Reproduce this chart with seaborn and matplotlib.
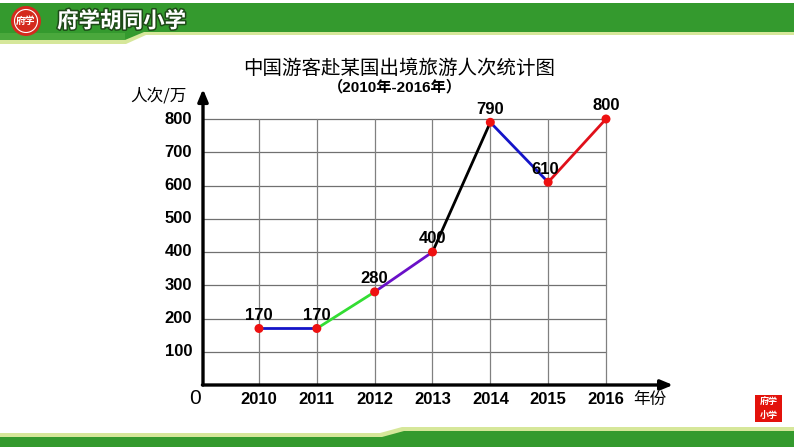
import matplotlib
matplotlib.use("Agg")
import matplotlib.pyplot as plt
import matplotlib.patheffects as pe
from matplotlib.patches import Polygon, Circle, Rectangle
import seaborn as sns
import pandas as pd

sns.set_theme(style="white")
plt.rcParams['font.family'] = ['Liberation Sans', 'Noto Sans CJK SC', 'DejaVu Sans']
plt.rcParams['text.color'] = 'black'

years = [2010, 2011, 2012, 2013, 2014, 2015, 2016]
visitors = [170, 170, 280, 400, 790, 610, 800]
seg_colors = ['#1414c8', '#33dd33', '#6a10c8', '#000000', '#1414c8', '#e0101a']
y_ticks = [100, 200, 300, 400, 500, 600, 700, 800]
title = "中国游客赴某国出境旅游人次统计图"
subtitle = "（2010年-2016年）"
y_unit = "人次/万"
x_unit = "年份"

W, H = 794, 447
fig = plt.figure(figsize=(W / 100, H / 100), dpi=100)

# background decoration axes in pixel coordinates
bg = fig.add_axes([0, 0, 1, 1], zorder=0)
bg.set_xlim(0, W)
bg.set_ylim(H, 0)
bg.axis('off')
green = '#349a2e'
light = '#d6e79a'
# header
bg.add_patch(Polygon([(0, 44), (126, 44), (146, 35), (W, 35), (W, 31), (0, 31)], closed=True, color=light, lw=0))
bg.add_patch(Polygon([(0, 3), (W, 3), (W, 32), (144, 32), (125, 40), (0, 40)], closed=True, color=green, lw=0))
bg.add_patch(Polygon([(0, 33), (125, 33), (125, 40), (0, 40)], closed=True, color='#4aa83c', lw=0))
# header logo
bg.add_patch(Circle((26, 21), 15, color='#d42a1e', lw=0))
bg.add_patch(Circle((26, 21), 11.5, fill=False, ec='white', lw=0.8))
bg.text(26, 21, "府学", color='white', fontsize=7, ha='center', va='center', family=['Noto Sans CJK SC'], fontweight='bold')
bg.text(57, 21, "府学胡同小学", color='white', fontsize=15.5, ha='left', va='center',
        family=['Noto Sans CJK SC'], fontweight='bold', fontstyle='italic',
        path_effects=[pe.withStroke(linewidth=2.2, foreground='#1e4a18')])
# footer
bg.add_patch(Polygon([(0, 433), (380, 433), (402, 427), (W, 427), (W, 447), (0, 447)], closed=True, color=light, lw=0))
bg.add_patch(Polygon([(0, 437), (382, 437), (404, 431), (W, 431), (W, 447), (0, 447)], closed=True, color=green, lw=0))
# footer badge
bg.add_patch(Rectangle((755, 395), 27, 27, color='#e3120b', lw=0))
bg.text(768.5, 402, "府学", color='white', fontsize=6.5, ha='center', va='center', family=['Noto Sans CJK SC'], fontweight='bold')
bg.text(768.5, 415, "小学", color='white', fontsize=6.5, ha='center', va='center', family=['Noto Sans CJK SC'], fontweight='bold')

# main chart axes
px_per_year = 57.83
px_per_unit = 0.3325
x0 = 2010 - 56 / px_per_year
left_px, right_px, bottom_px, top_px = 203, 690, 385, 80
ax = fig.add_axes([left_px / W, (H - bottom_px) / H, (right_px - left_px) / W, (bottom_px - top_px) / H], zorder=1)
ax.patch.set_alpha(0)
ax.set_xlim(x0, x0 + (right_px - left_px) / px_per_year)
ax.set_ylim(0, (bottom_px - top_px) / px_per_unit)
for s in ax.spines.values():
    s.set_visible(False)
ax.set_xticks([])
ax.set_yticks([])

# grid
for yv in y_ticks:
    ax.plot([x0, years[-1]], [yv, yv], color='#707070', lw=0.9, zorder=1)
for xv in years:
    ax.plot([xv, xv], [0, 800], color='#808080', lw=0.9, zorder=1)

# axes arrows
ax.annotate('', xy=(x0, 890), xytext=(x0, 0),
            arrowprops=dict(arrowstyle='-|>,head_length=0.6,head_width=0.25', lw=2.4, color='black', shrinkA=0, shrinkB=0),
            annotation_clip=False, zorder=3)
ax.annotate('', xy=(2016 + 67 / px_per_year, 0), xytext=(x0 - 0.01, 0),
            arrowprops=dict(arrowstyle='-|>,head_length=0.6,head_width=0.25', lw=2.4, color='black', shrinkA=0, shrinkB=0),
            annotation_clip=False, zorder=3)

# line segments
for i, c in enumerate(seg_colors):
    seg = pd.DataFrame({'year': years[i:i + 2], 'v': visitors[i:i + 2]})
    sns.lineplot(data=seg, x='year', y='v', color=c, lw=2.0, ax=ax, zorder=4)
df = pd.DataFrame({'year': years, 'v': visitors})
sns.scatterplot(data=df, x='year', y='v', color='#ee1111', s=42, edgecolor='none', ax=ax, zorder=5)
ax.set_xlabel('')
ax.set_ylabel('')

# data labels
offsets = {2015: (-2, 4)}
for xv, yv in zip(years, visitors):
    dx, dy = offsets.get(xv, (0, 4))
    ax.annotate(str(yv), (xv, yv), xytext=(dx, dy), textcoords='offset points',
                ha='center', va='bottom', fontsize=12, fontweight='bold', zorder=6)

# tick labels
for yv in y_ticks:
    ax.text(x0 - 11 / px_per_year, yv, str(yv), ha='right', va='center', fontsize=12, fontweight='bold')
for xv in years:
    ax.text(xv, -45, str(xv), ha='center', va='center', fontsize=12, fontweight='bold')
ax.text(x0 - 8 / px_per_year, -42, "0", ha='center', va='center', fontsize=15)
ax.text(2016 + 44 / px_per_year, -45, x_unit, ha='center', va='center', fontsize=12, family=['Noto Sans CJK SC'])
ax.text(x0 - 45 / px_per_year, 870, y_unit, ha='center', va='center', fontsize=12, family=['Noto Sans CJK SC'])

# titles
fig.text(399 / W, 1 - 68 / H, title, ha='center', va='center', fontsize=14, family=['Noto Sans CJK SC'])
fig.text(395 / W, 1 - 87 / H, subtitle, ha='center', va='center', fontsize=11, fontweight='bold',
         family=['Liberation Sans', 'Noto Sans CJK SC'])

fig.savefig('out.png', dpi=100)
